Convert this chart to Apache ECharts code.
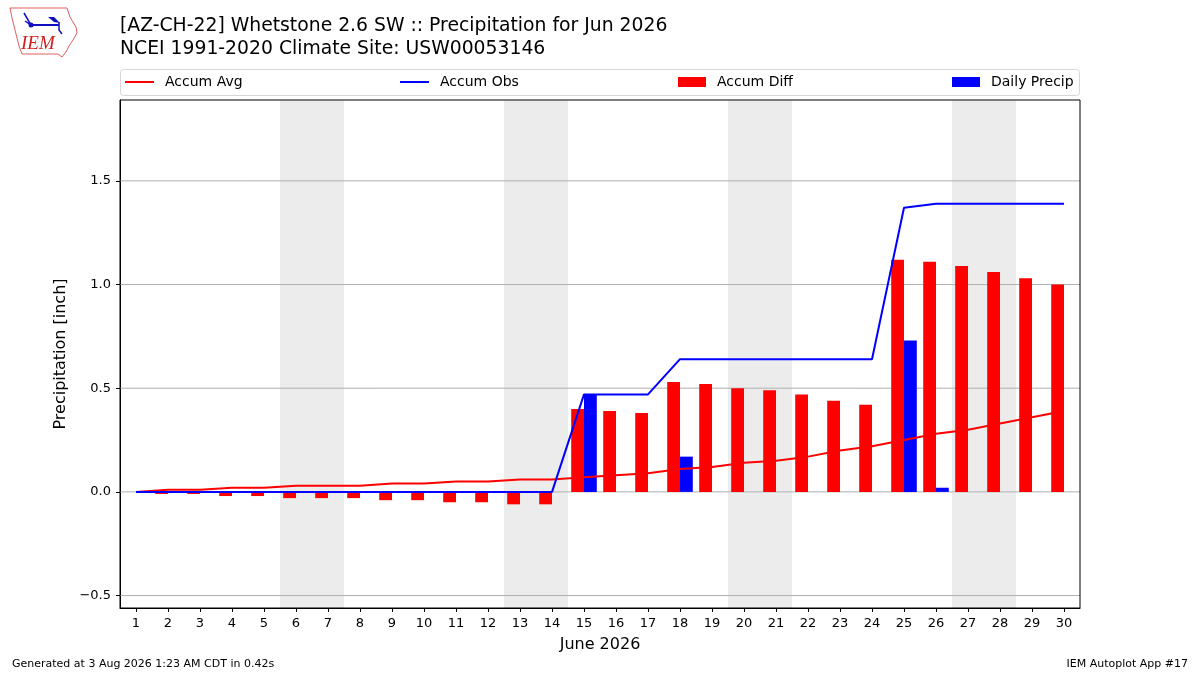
<!DOCTYPE html>
<html>
<head>
<meta charset="utf-8">
<title>Whetstone 2.6 SW precipitation</title>
<script src="https://cdn.jsdelivr.net/npm/echarts@6/dist/echarts.min.js"></script>
<style>
  html, body { margin: 0; padding: 0; background: #fff; }
  #main { width: 1200px; height: 675px; }
</style>
</head>
<body>
<div id="main"></div>
<script>
// day of month
const days = [1, 2, 3, 4, 5, 6, 7, 8, 9, 10, 11, 12, 13, 14, 15,
  16, 17, 18, 19, 20, 21, 22, 23, 24, 25, 26, 27, 28, 29, 30]
// climatology accumulation
const accumAvg = [0.00, 0.01, 0.01, 0.02, 0.02, 0.03, 0.03, 0.03, 0.04, 0.04,
  0.05, 0.05, 0.06, 0.06, 0.07, 0.08, 0.09, 0.11, 0.12, 0.14,
  0.15, 0.17, 0.20, 0.22, 0.25, 0.28, 0.30, 0.33, 0.36, 0.39]
// observed accumulation
const accumObs = [0, 0, 0, 0, 0, 0, 0, 0, 0, 0,
  0, 0, 0, 0, 0.47, 0.47, 0.47, 0.64, 0.64, 0.64,
  0.64, 0.64, 0.64, 0.64, 1.37, 1.39, 1.39, 1.39, 1.39, 1.39]
// departure
const accumDiff = [0.00, -0.01, -0.01, -0.02, -0.02, -0.03, -0.03, -0.03, -0.04, -0.04,
  -0.05, -0.05, -0.06, -0.06, 0.40, 0.39, 0.38, 0.53, 0.52, 0.50,
  0.49, 0.47, 0.44, 0.42, 1.12, 1.11, 1.09, 1.06, 1.03, 1.00]
const dailyPrecip = [0, 0, 0, 0, 0, 0, 0, 0, 0, 0,
  0, 0, 0, 0, 0.47, 0, 0, 0.17, 0, 0,
  0, 0, 0, 0, 0.73, 0.02, 0, 0, 0, 0]
const yTicks = [-0.5, 0, 0.5, 1.0, 1.5]
const weekends = [[6, 7], [13, 14], [20, 21], [27, 28]]

const xMin = 0.5
const xMax = 30.5
const yMin = -0.56
const yMax = 1.89
const font = 'DejaVu Sans'

const pairs = arr => days.map((d, i) => [d, arr[i]])

// bar drawn beside the day tick, offset in days
function barItem (offset) {
  return function (params, api) {
    const d = api.value(0)
    const v = api.value(1)
    const a = api.coord([d + offset, 0])
    const b = api.coord([d + offset + 0.4, v])
    return {
      type: 'rect',
      shape: { x: a[0], y: Math.min(a[1], b[1]), width: b[0] - a[0], height: Math.abs(b[1] - a[1]) },
      style: { fill: api.visual('color') }
    }
  }
}

const chart = echarts.init(document.getElementById('main'))

const legendBase = {
  top: 75,
  padding: 0,
  itemGap: 0,
  textStyle: { fontFamily: font, fontSize: 14, color: '#000', padding: [0, 0, 0, 6] },
  selectedMode: false
}

chart.setOption({
  animation: false,
  backgroundColor: '#fff',
  title: {
    left: 120,
    top: 15,
    padding: 0,
    text: '[AZ-CH-22] Whetstone 2.6 SW :: Precipitation for Jun 2026\nNCEI 1991-2020 Climate Site: USW00053146',
    textStyle: { fontFamily: font, fontSize: 18.8, fontWeight: 'normal', color: '#000', lineHeight: 23 }
  },
  legend: [
    Object.assign({ left: 125, data: [{ name: 'Accum Avg', icon: 'rect' }], itemWidth: 29, itemHeight: 2 }, legendBase),
    Object.assign({ left: 400, data: [{ name: 'Accum Obs', icon: 'rect' }], itemWidth: 29, itemHeight: 2 }, legendBase),
    Object.assign({ left: 678, data: [{ name: 'Accum Diff', icon: 'rect' }], itemWidth: 28, itemHeight: 10 }, legendBase),
    Object.assign({ left: 952, data: [{ name: 'Daily Precip', icon: 'rect' }], itemWidth: 28, itemHeight: 10 }, legendBase)
  ],
  grid: {
    left: 120, right: 120, top: 100, bottom: 67,
    show: true, z: 10, borderColor: '#000', borderWidth: 1, backgroundColor: 'transparent'
  },
  xAxis: {
    type: 'value',
    min: xMin,
    max: xMax,
    name: 'June 2026',
    nameLocation: 'middle',
    nameGap: 29,
    nameTextStyle: { fontFamily: font, fontSize: 16, color: '#000' },
    axisLine: { show: true, onZero: false, lineStyle: { color: '#000' } },
    axisTick: { show: true, customValues: days, length: 4, lineStyle: { color: '#000' } },
    axisLabel: { customValues: days, fontFamily: font, fontSize: 13, color: '#000', margin: 9 },
    splitLine: { show: false }
  },
  yAxis: {
    type: 'value',
    min: yMin,
    max: yMax,
    name: 'Precipitation [inch]',
    nameLocation: 'middle',
    nameGap: 49,
    nameTextStyle: { fontFamily: font, fontSize: 16, color: '#000' },
    axisLine: { show: true, lineStyle: { color: '#000' } },
    axisTick: { show: true, customValues: yTicks, length: 4, lineStyle: { color: '#000' } },
    axisLabel: {
      customValues: yTicks,
      fontFamily: font,
      fontSize: 13,
      color: '#000',
      margin: 9,
      formatter: v => (v < 0 ? '\u2212' : '') + Math.abs(v).toFixed(1)
    },
    splitLine: { show: false }
  },
  series: [
    {
      // weekend shading
      type: 'custom',
      silent: true,
      z: 0,
      data: weekends,
      renderItem: (params, api) => {
        const a = api.coord([api.value(0) - 0.5, yMax])
        const b = api.coord([api.value(1) + 0.5, yMin])
        return { type: 'rect', shape: { x: a[0], y: a[1], width: b[0] - a[0], height: b[1] - a[1] }, style: { fill: '#ececec' } }
      }
    },
    {
      // horizontal grid
      type: 'custom',
      silent: true,
      z: 1,
      data: yTicks.map(v => [xMin, v]),
      encode: { x: 0, y: 1 },
      renderItem: (params, api) => {
        const a = api.coord([xMin, api.value(1)])
        const b = api.coord([xMax, api.value(1)])
        return { type: 'line', shape: { x1: a[0], y1: a[1], x2: b[0], y2: b[1] }, style: { stroke: '#b0b0b0', lineWidth: 1 } }
      }
    },
    {
      name: 'Accum Diff',
      type: 'custom',
      z: 2,
      color: '#ff0000',
      data: pairs(accumDiff),
      encode: { x: 0, y: 1 },
      renderItem: barItem(-0.4)
    },
    {
      name: 'Daily Precip',
      type: 'custom',
      z: 2,
      color: '#0000ff',
      data: pairs(dailyPrecip),
      encode: { x: 0, y: 1 },
      renderItem: barItem(0)
    },
    {
      name: 'Accum Avg',
      type: 'line',
      z: 3,
      color: '#ff0000',
      symbol: 'none',
      lineStyle: { width: 2 },
      data: pairs(accumAvg)
    },
    {
      name: 'Accum Obs',
      type: 'line',
      z: 3,
      color: '#0000ff',
      symbol: 'none',
      lineStyle: { width: 2 },
      data: pairs(accumObs)
    }
  ],
  graphic: [
    {
      // legend frame
      type: 'rect',
      shape: { x: 120.5, y: 69.5, width: 959, height: 26, r: 3 },
      style: { fill: 'none', stroke: '#d6d6d6', lineWidth: 1 },
      z: 1
    },
    {
      // IEM logo, rough
      type: 'group',
      children: [
        {
          type: 'polyline',
          shape: { points: [[10, 8], [67, 8], [70, 17], [76, 27], [77, 33], [73, 40], [69, 46], [66, 52], [62, 57], [58, 54], [22, 54], [19, 46], [15, 30], [12, 18], [10, 8]] },
          style: { stroke: '#e06060', fill: 'none', lineWidth: 1 }
        },
        {
          type: 'polyline',
          shape: { points: [[31, 25], [59, 25]] },
          style: { stroke: '#1010c0', lineWidth: 2 }
        },
        {
          type: 'polyline',
          shape: { points: [[24, 13], [31, 25], [25, 21]] },
          style: { stroke: '#1010c0', fill: 'none', lineWidth: 1.5 }
        },
        {
          type: 'polygon',
          shape: { points: [[48, 17], [54, 17], [60, 23], [54, 22]] },
          style: { fill: '#1010c0' }
        },
        {
          type: 'polyline',
          shape: { points: [[59, 22], [59, 30], [62, 34]] },
          style: { stroke: '#1010c0', fill: 'none', lineWidth: 1.5 }
        },
        {
          type: 'circle',
          shape: { cx: 31, cy: 25, r: 2.5 },
          style: { fill: '#1010c0' }
        },
        {
          type: 'text',
          left: 21,
          top: 34,
          style: { text: 'IEM', fontFamily: 'Liberation Serif', fontStyle: 'italic', fontSize: 19, fill: '#d02020' }
        }
      ]
    },
    {
      type: 'text',
      left: 12,
      top: 659,
      style: { text: 'Generated at 3 Aug 2026 1:23 AM CDT in 0.42s', fontFamily: font, fontSize: 11, fill: '#000' }
    },
    {
      type: 'text',
      right: 12,
      top: 659,
      style: { text: 'IEM Autoplot App #17', fontFamily: font, fontSize: 11, fill: '#000' }
    }
  ]
})
</script>
</body>
</html>
